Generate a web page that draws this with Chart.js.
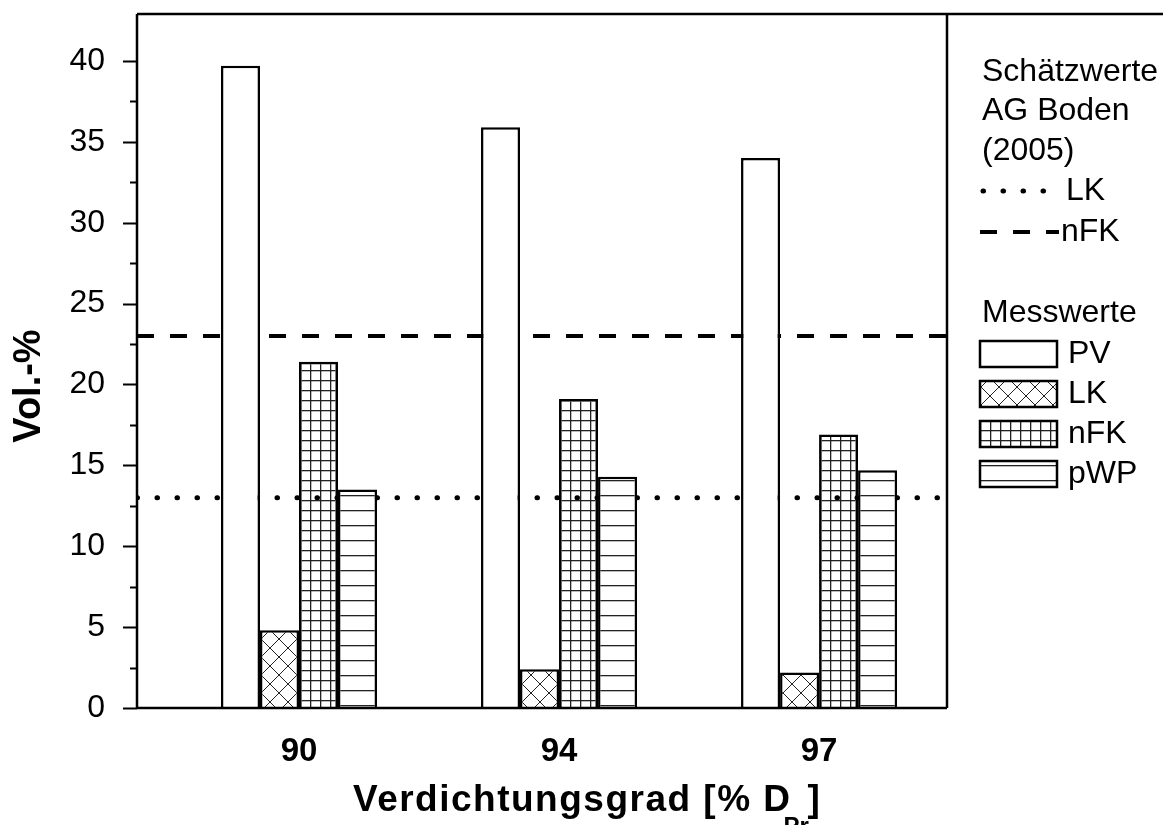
<!DOCTYPE html>
<html>
<head>
<meta charset="utf-8">
<script src="https://cdn.jsdelivr.net/npm/chart.js@4.4.0/dist/chart.umd.min.js"></script>
<style>
  html, body { margin: 0; padding: 0; background: #fff; }
</style>
</head>
<body>
<canvas id="chart" width="1163" height="825"></canvas>
<script>
// Verdichtungsgrad [% DPr]
const categories = ['90', '94', '97'];

// Messwerte (Vol.-%)
const pvValues  = [39.7, 35.9, 34.0];
const lkValues  = [4.8, 2.4, 2.2];
const nfkValues = [21.4, 19.1, 16.9];
const pwpValues = [13.5, 14.3, 14.7];

// Schätzwerte AG Boden (2005)
const lkEstimate  = 13;
const nfkEstimate = 23;

const yTicks = [0, 5, 10, 15, 20, 25, 30, 35, 40];

// axis range (category index units)
const X_MIN = -0.623;
const X_MAX = 2.492;
const Y_MAX = 42.9;

const FONT = "'Liberation Sans', Arial, sans-serif";
Chart.defaults.font.family = FONT;
Chart.defaults.color = '#000';

// hatch patterns for the bars
function makePattern(kind) {
    const c = document.createElement('canvas');
    const g = c.getContext('2d');
    if (kind === 'cross') {
        c.width = 18; c.height = 18;
        g.fillStyle = '#fff';
        g.fillRect(0, 0, 18, 18);
        g.strokeStyle = '#222';
        g.lineWidth = 1;
        g.beginPath();
        g.moveTo(0, 0); g.lineTo(18, 18);
        g.moveTo(18, 0); g.lineTo(0, 18);
        g.stroke();
    } else if (kind === 'grid') {
        c.width = 10; c.height = 10;
        g.fillStyle = '#222';
        g.fillRect(0, 0, 10, 1.3);
        g.fillRect(0, 0, 1.3, 10);
    } else if (kind === 'hlines') {
        c.width = 10; c.height = 15;
        g.fillStyle = '#fff';
        g.fillRect(0, 0, 10, 15);
        g.fillStyle = '#222';
        g.fillRect(0, 0, 10, 1.3);
    } else {
        c.width = 4; c.height = 4;
        g.fillStyle = '#fff';
        g.fillRect(0, 0, 4, 4);
    }
    return g.createPattern(c, 'repeat');
}

const ctx = document.getElementById('chart').getContext('2d');
const fills = {
    PV: makePattern('plain'),
    LK: makePattern('cross'),
    nFK: makePattern('grid'),
    pWP: makePattern('hlines')
};

function toPoints(values) {
    return values.map((v, i) => ({ x: i, y: v }));
}

function barSet(label, values) {
    return {
        type: 'bar',
        label: label,
        data: toPoints(values),
        backgroundColor: fills[label],
        borderColor: '#000',
        borderWidth: 2.5,
        categoryPercentage: 0.6,
        barPercentage: 1.0,
        order: 1
    };
}

function refLine(label, value, dash, cap, width) {
    return {
        type: 'line',
        label: label,
        data: [{ x: X_MIN, y: value }, { x: X_MAX, y: value }],
        borderColor: '#000',
        borderWidth: width,
        borderDash: dash,
        borderCapStyle: cap,
        pointRadius: 0,
        fill: false,
        order: 2
    };
}

function noPadding(scale) {
    scale.paddingTop = 0;
    scale.paddingBottom = 0;
    scale.paddingLeft = 0;
    scale.paddingRight = 0;
}

// frame, minor ticks, titles and legend
const decorations = {
    id: 'decorations',
    afterDatasetsDraw(chart) {
        const c = chart.ctx;
        const a = chart.chartArea;
        const y = chart.scales.y;
        c.save();
        c.strokeStyle = '#000';
        c.lineWidth = 2.5;
        c.setLineDash([]);
        c.beginPath();
        c.moveTo(a.left, a.top); c.lineTo(chart.width, a.top);
        c.moveTo(a.left, a.top); c.lineTo(a.left, a.bottom);
        c.moveTo(a.left, a.bottom); c.lineTo(a.right, a.bottom);
        c.moveTo(a.right, a.top); c.lineTo(a.right, a.bottom);
        c.stroke();

        // y ticks: major every 5, minor every 2.5
        c.lineWidth = 2;
        c.beginPath();
        for (let v = 0; v <= 40; v += 2.5) {
            const py = Math.round(y.getPixelForValue(v)) + 0.5;
            const len = v % 5 === 0 ? 14 : 7;
            c.moveTo(a.left - len, py);
            c.lineTo(a.left, py);
        }
        c.stroke();

        // axis titles
        c.fillStyle = '#000';
        c.textBaseline = 'alphabetic';
        c.textAlign = 'left';
        c.font = 'bold 37px ' + FONT;
        c.letterSpacing = '1.5px';
        const xt = 'Verdichtungsgrad [% D';
        const x0 = 353;
        const w = c.measureText(xt).width;
        c.fillText(xt, x0, 811);
        c.font = 'bold 24px ' + FONT;
        c.letterSpacing = '0px';
        c.fillText('Pr', x0 + w - 8, 834);
        c.font = 'bold 37px ' + FONT;
        c.fillText(']', x0 + w + 16, 811);

        c.save();
        c.translate(30, 386);
        c.rotate(-Math.PI / 2);
        c.textAlign = 'center';
        c.textBaseline = 'middle';
        c.font = 'bold 38px ' + FONT;
        c.fillText('Vol.-%', 0, 0);
        c.restore();

        // legend
        c.font = '32px ' + FONT;
        c.textAlign = 'left';
        c.textBaseline = 'middle';
        c.fillText('Schätzwerte', 982, 72);
        c.fillText('AG Boden', 982, 111);
        c.fillText('(2005)', 982, 151);

        c.lineWidth = 5;
        c.lineCap = 'round';
        c.setLineDash([0.5, 19.5]);
        c.beginPath();
        c.moveTo(983, 191); c.lineTo(1045, 191);
        c.stroke();
        c.fillText('LK', 1066, 191);

        c.lineWidth = 4;
        c.lineCap = 'butt';
        c.setLineDash([17, 16]);
        c.beginPath();
        c.moveTo(980, 232); c.lineTo(1059, 232);
        c.stroke();
        c.setLineDash([]);
        c.fillText('nFK', 1061, 232);

        c.fillText('Messwerte', 982, 313);
        ['PV', 'LK', 'nFK', 'pWP'].forEach((name, i) => {
            const top = 341 + 40 * i;
            c.fillStyle = '#fff';
            c.fillRect(980, top, 77, 26);
            c.fillStyle = fills[name];
            c.fillRect(980, top, 77, 26);
            c.lineWidth = 2.5;
            c.strokeStyle = '#000';
            c.strokeRect(980, top, 77, 26);
            c.fillStyle = '#000';
            c.fillText(name, 1068, top + 13);
        });
        c.restore();
    }
};

new Chart(ctx, {
    data: {
        datasets: [
            barSet('PV', pvValues),
            barSet('LK', lkValues),
            barSet('nFK', nfkValues),
            barSet('pWP', pwpValues),
            refLine('LK (AG Boden)', lkEstimate, [0.5, 19.5], 'round', 5),
            refLine('nFK (AG Boden)', nfkEstimate, [17, 16], 'butt', 4)
        ]
    },
    options: {
        responsive: false,
        animation: false,
        layout: { padding: { top: 14, right: 216, left: 0, bottom: 0 } },
        plugins: {
            legend: { display: false },
            tooltip: { enabled: false }
        },
        scales: {
            x: {
                type: 'linear',
                min: X_MIN,
                max: X_MAX,
                offset: false,
                grid: { display: false, drawTicks: false },
                border: { display: false },
                afterBuildTicks: (scale) => {
                    scale.ticks = categories.map((_, i) => ({ value: i }));
                },
                afterFit: (scale) => { scale.height = 117; noPadding(scale); },
                ticks: {
                    padding: 24,
                    font: { size: 33, weight: 'bold' },
                    color: '#000',
                    maxRotation: 0,
                    callback: (v) => categories[v]
                }
            },
            y: {
                min: 0,
                max: Y_MAX,
                grid: { display: false, drawTicks: false },
                border: { display: false },
                afterBuildTicks: (scale) => {
                    scale.ticks = yTicks.map(v => ({ value: v }));
                },
                afterFit: (scale) => { scale.width = 137; noPadding(scale); },
                ticks: {
                    padding: 32,
                    font: { size: 32 },
                    color: '#000'
                }
            }
        }
    },
    plugins: [decorations]
});
</script>
</body>
</html>
